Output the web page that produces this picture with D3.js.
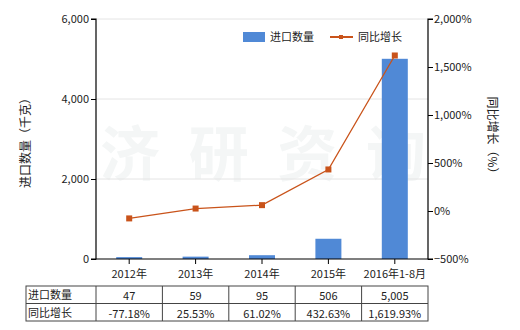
<!DOCTYPE html>
<html>
<head>
<meta charset="utf-8">
<script src="https://cdn.jsdelivr.net/npm/d3@7"></script>
<style>
	body { margin: 0; background: #fff; }
	svg text { font-family: "Noto Sans CJK SC", "Noto Sans", sans-serif; fill: #222; }
</style>
</head>
<body>
<div id="chart"></div>
<script>
const categories = ['2012年', '2013年', '2014年', '2015年', '2016年1-8月']
const quantity = [47, 59, 95, 506, 5005]
const growth = [-77.18, 25.53, 61.02, 432.63, 1619.93]
const quantityLabels = ['47', '59', '95', '506', '5,005']
const growthLabels = ['-77.18%', '25.53%', '61.02%', '432.63%', '1,619.93%']
const leftTicks = [0, 2000, 4000, 6000]
const rightTicks = [-500, 0, 500, 1000, 1500, 2000]
const watermark = ['济', '研', '资', '询']

const width = 520, height = 330
const plot = { left: 96, right: 428, top: 19, bottom: 259 }
const barColor = '#5089d6'
const lineColor = '#c9531a'

const svg = d3.select('#chart').append('svg')
	.attr('width', width)
	.attr('height', height)

const x = d3.scaleBand()
	.domain(categories)
	.range([plot.left, plot.right])

const yLeft = d3.scaleLinear().domain([0, 6000]).range([plot.bottom, plot.top])
const yRight = d3.scaleLinear().domain([-500, 2000]).range([plot.bottom, plot.top])

// faint watermark
const wm = d3.scalePoint().domain(watermark).range([130, 396])
svg.append('g')
	.selectAll('text')
	.data(watermark)
	.join('text')
	.attr('x', d => wm(d))
	.attr('y', 176)
	.attr('text-anchor', 'middle')
	.style('font-size', '60px')
	.style('font-weight', 'bold')
	.style('fill', '#f4f6f6')
	.text(d => d)

// gridlines
svg.append('g')
	.selectAll('line')
	.data(leftTicks.filter(d => d > 0))
	.join('line')
	.attr('x1', plot.left).attr('x2', plot.right)
	.attr('y1', d => yLeft(d)).attr('y2', d => yLeft(d))
	.attr('stroke', '#e4e4e4')

// bars
svg.append('g')
	.selectAll('rect')
	.data(quantity)
	.join('rect')
	.attr('x', (d, i) => x(categories[i]) + x.bandwidth() / 2 - 13)
	.attr('width', 26)
	.attr('y', d => yLeft(d))
	.attr('height', d => yLeft(0) - yLeft(d))
	.attr('fill', barColor)

// axes
const leftAxis = svg.append('g')
	.attr('transform', `translate(${plot.left},0)`)
	.call(d3.axisLeft(yLeft).tickValues(leftTicks).tickFormat(d3.format(',')).tickSize(5).tickPadding(2))
const rightAxis = svg.append('g')
	.attr('transform', `translate(${plot.right},0)`)
	.call(d3.axisRight(yRight).tickValues(rightTicks).tickFormat(d => d3.format(',')(d) + '%').tickSize(5).tickPadding(1))
const bottomAxis = svg.append('g')
	.attr('transform', `translate(0,${plot.bottom})`)
	.call(d3.axisBottom(x).tickSize(5).tickPadding(6))

;[leftAxis, rightAxis, bottomAxis].forEach(g => {
	g.select('.domain').attr('stroke', '#000').attr('stroke-width', 1.2)
	g.selectAll('.tick line').attr('stroke', '#000')
	g.selectAll('text').style('font-size', '11px').style('font-family', '"Noto Sans CJK SC", sans-serif').attr('fill', '#222')
})
bottomAxis.select('.domain').attr('d', `M${plot.left},0H${plot.right}`)
leftAxis.select('.domain').attr('d', `M-5,${plot.top}H0V${plot.bottom}H-5`)
rightAxis.select('.domain').attr('d', `M5,${plot.top}H0V${plot.bottom}H5`)

// growth line
const line = d3.line()
	.x((d, i) => x(categories[i]) + x.bandwidth() / 2)
	.y(d => yRight(d))

svg.append('path')
	.datum(growth)
	.attr('d', line)
	.attr('fill', 'none')
	.attr('stroke', lineColor)
	.attr('stroke-width', 1.3)

svg.append('g')
	.selectAll('rect')
	.data(growth)
	.join('rect')
	.attr('x', (d, i) => x(categories[i]) + x.bandwidth() / 2 - 3)
	.attr('y', d => yRight(d) - 3)
	.attr('width', 6).attr('height', 6)
	.attr('fill', lineColor)

// axis titles
svg.append('text')
	.attr('transform', 'translate(30,140) rotate(-90)')
	.attr('text-anchor', 'middle')
	.style('font-size', '12px')
	.text('进口数量（千克）')
svg.append('text')
	.attr('transform', 'translate(488,138) rotate(90)')
	.attr('text-anchor', 'middle')
	.style('font-size', '12px')
	.text('同比增长（%）')

// legend
const legend = svg.append('g')
legend.append('rect').attr('x', 243).attr('y', 32).attr('width', 22).attr('height', 10).attr('fill', barColor)
legend.append('text').attr('x', 270).attr('y', 41).style('font-size', '11px').text('进口数量')
legend.append('line').attr('x1', 330).attr('x2', 353).attr('y1', 37).attr('y2', 37).attr('stroke', lineColor).attr('stroke-width', 2)
legend.append('rect').attr('x', 339).attr('y', 35).attr('width', 4).attr('height', 4).attr('fill', lineColor)
legend.append('text').attr('x', 358).attr('y', 41).style('font-size', '11px').text('同比增长')

// data table
const table = svg.append('g')
const rowTop = 286
const rowH = 17.5
const rows = [
	{ name: '进口数量', values: quantityLabels },
	{ name: '同比增长', values: growthLabels },
]
const cols = [26, ...categories.map(c => x(c)), plot.right]

table.append('rect')
	.attr('x', 26).attr('y', rowTop)
	.attr('width', plot.right - 26).attr('height', rowH * 2)
	.attr('fill', 'none').attr('stroke', '#444')
table.append('line')
	.attr('x1', 26).attr('x2', plot.right)
	.attr('y1', rowTop + rowH).attr('y2', rowTop + rowH)
	.attr('stroke', '#444')
table.selectAll('.vline')
	.data(cols.slice(1, -1))
	.join('line')
	.attr('x1', d => d).attr('x2', d => d)
	.attr('y1', rowTop).attr('y2', rowTop + rowH * 2)
	.attr('stroke', '#444')

rows.forEach((r, ri) => {
	const yText = rowTop + rowH * ri + 13
	table.append('text').attr('x', 28).attr('y', yText).style('font-size', '11px').text(r.name)
	table.selectAll(`.cell${ri}`)
		.data(r.values)
		.join('text')
		.attr('x', (d, i) => x(categories[i]) + x.bandwidth() / 2)
		.attr('y', yText + 1)
		.attr('text-anchor', 'middle')
		.style('font-size', '11px')
		.text(d => d)
})
</script>
</body>
</html>
